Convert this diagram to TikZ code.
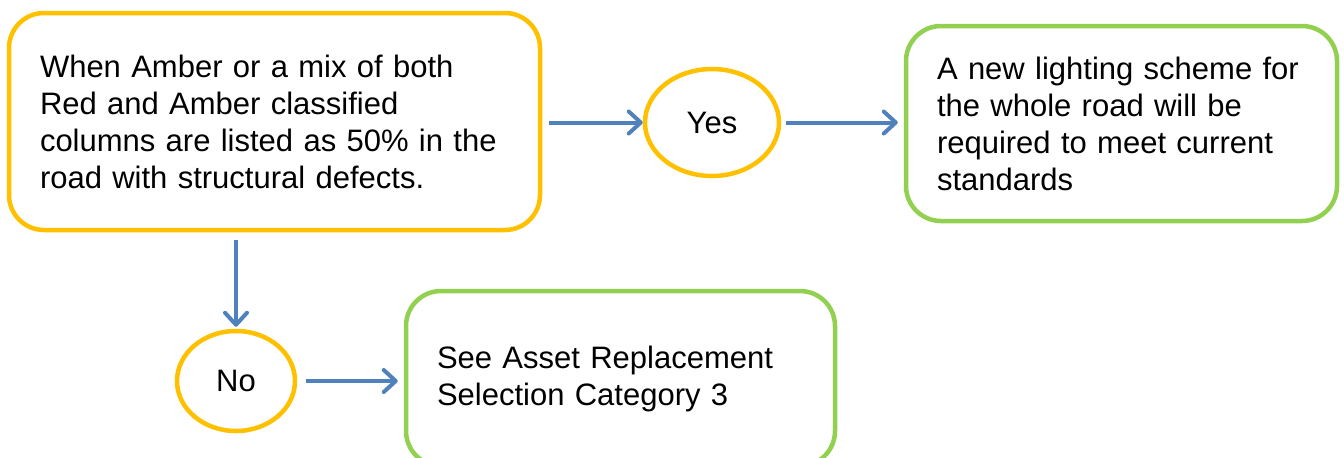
\documentclass[tikz,border=0pt]{standalone}
\usepackage{fontspec}
\setmainfont{Liberation Sans}
\usetikzlibrary{shapes.geometric,arrows.meta}
\definecolor{amber}{HTML}{FFC000}
\definecolor{leaf}{HTML}{92D050}
\definecolor{flowblue}{HTML}{4F81BD}
\tikzset{
	box/.style={draw, line width=2.25pt, rounded corners=17.5pt, align=left, inner xsep=0pt,
		font=\fontsize{15.5}{18.5}\selectfont},
	answer/.style={ellipse, draw=amber, line width=2.25pt, inner sep=0pt,
		font=\fontsize{15.5}{18.5}\selectfont},
	flow/.style={draw=flowblue, line width=2pt, -{Straight Barb[length=6pt,width=11pt,round]}}
}
\begin{document}
\begin{tikzpicture}[x=0.5pt, y=-0.5pt]

	\useasboundingbox (0,0) rectangle (1344,457);

	\node[box, draw=amber, minimum width=265.5pt, minimum height=108.5pt, text width=234.5pt] (cond) at (274.5,121.5)
		{When Amber or a mix of both\\Red and Amber classified\\columns are listed as 50\% in the\\road with structural defects.};
	\node[answer, minimum width=67pt, minimum height=53.5pt] (yes) at (712,122.5) {Yes};
	\node[box, draw=leaf, minimum width=215.5pt, minimum height=97.5pt, text width=184.5pt] (scheme) at (1121.5,123.5)
		{A new lighting scheme for\\the whole road will be\\required to meet current\\standards};
	\node[answer, minimum width=59pt, minimum height=50pt] (no) at (236,381) {No};
	\node[box, draw=leaf, minimum width=214.5pt, minimum height=87.5pt, text width=183.5pt] (see) at (620.5,378.5)
		{See Asset Replacement\\Selection Category 3};

	\draw[flow, shorten <=3.5pt] (cond.east |- yes.west) -- (yes.west);
	\draw[flow, shorten <=2.5pt, shorten >=3pt] (yes.east) -- (yes.east -| scheme.west);
	\draw[flow, shorten <=4pt, shorten >=1pt] (cond.south -| no.north) -- (no.north);
	\draw[flow, shorten <=4.5pt, shorten >=3pt] (no.east) -- (no.east -| see.west);

\end{tikzpicture}
\end{document}
